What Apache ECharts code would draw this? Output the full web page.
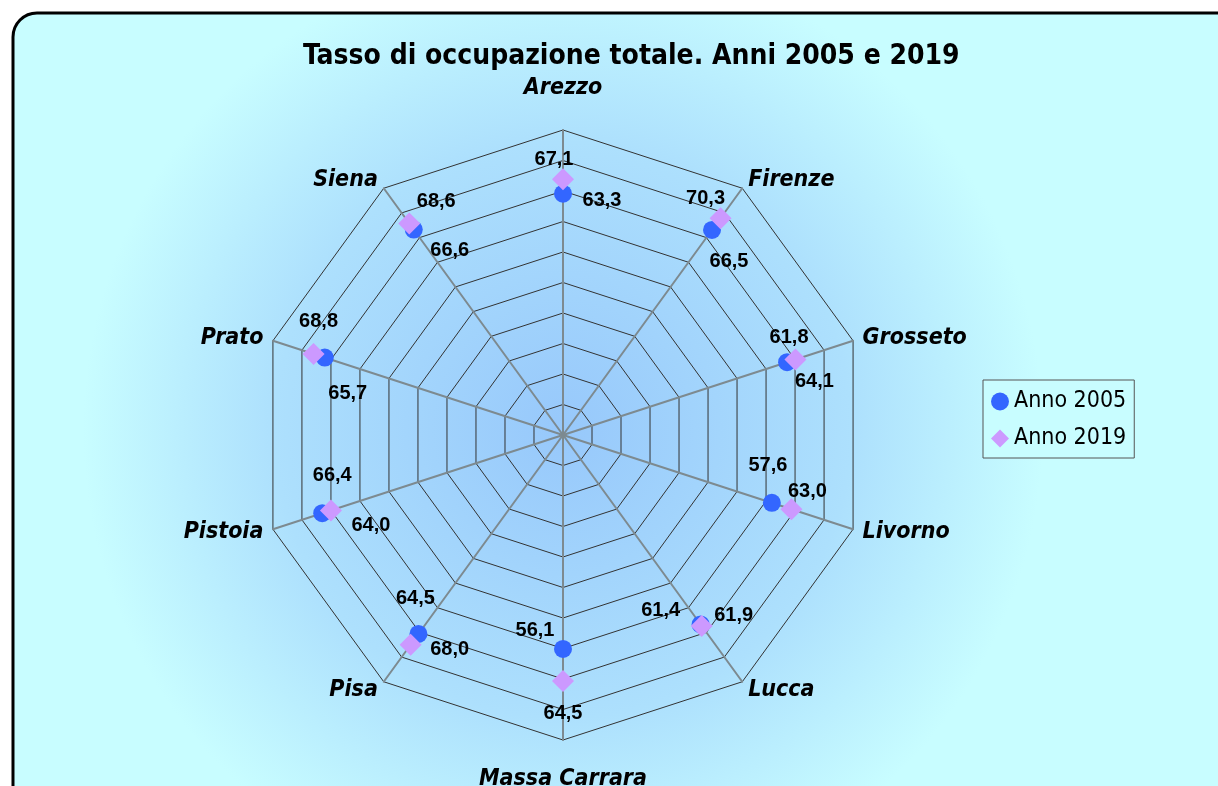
<!DOCTYPE html>
<html>
<head>
<meta charset="utf-8">
<script src="https://cdn.jsdelivr.net/npm/echarts@6/dist/echarts.min.js"></script>
<style>
  html, body { margin: 0; padding: 0; background: #fff; }
  #chart { width: 1218px; height: 786px; }
</style>
</head>
<body>
<div id="chart"></div>
<script>
// data (clockwise from the top)
const cities = ['Arezzo', 'Firenze', 'Grosseto', 'Livorno', 'Lucca', 'Massa Carrara', 'Pisa', 'Pistoia', 'Prato', 'Siena'];
const anno2005 = [63.3, 66.5, 61.8, 57.6, 61.4, 56.1, 64.5, 66.4, 65.7, 66.6];
const anno2019 = [67.1, 70.3, 64.1, 63.0, 61.9, 64.5, 68.0, 64.0, 68.8, 68.6];
const scaleMax = 80;

// where each value label sits, in px from its marker
const off2005 = [[39, 7], [17, 32], [2, -25], [-4, -37], [-40, -14], [-28, -18], [-3, -35], [10, -38], [23, 36], [36, 21]];
const off2019 = [[-9, -20], [-15, -20], [19, 22], [16, -18], [32, -10], [0, 33], [39, 5], [40, 15], [5, -32], [27, -22]];

const center = [563, 435];
const radius = 305;
const numFont = "'Liberation Sans', Arial, sans-serif";
const narrow = "'Liberation Sans Narrow', 'DejaVu Sans Condensed', sans-serif";

// radar goes counter-clockwise, so flip everything after the first one
const radarOrder = [cities[0]].concat(cities.slice(1).reverse());

const fmt = p => p.value[0].toFixed(1).replace('.', ',');

const pts = (vals, offs) => vals.map((v, i) => ({
  value: [v, cities[i]],
  label: { offset: offs[i] }
}));

const chart = echarts.init(document.getElementById('chart'));

chart.setOption({
  animation: false,
  backgroundColor: '#fff',
  graphic: [{
    type: 'rect',
    z: -10,
    shape: { x: 13, y: 13, width: 1240, height: 810, r: 24 },
    style: {
      fill: {
        type: 'radial', x: 563, y: 430, r: 480, global: true,
        colorStops: [
          { offset: 0, color: '#97c8fb' },
          { offset: 0.6, color: '#ade0fd' },
          { offset: 1, color: '#c8fdff' }
        ]
      },
      stroke: '#000',
      lineWidth: 3
    }
  }],
  title: {
    text: 'Tasso di occupazione totale. Anni 2005 e 2019',
    left: 298,
    top: 38,
    textStyle: { fontFamily: narrow, fontSize: 28, fontWeight: 'bold', color: '#000' }
  },
  legend: {
    orient: 'vertical',
    left: 983,
    top: 380,
    width: 154,
    padding: [10, 8, 8, 8],
    itemGap: 14,
    itemWidth: 18,
    itemHeight: 18,
    backgroundColor: '#c8fdff',
    borderColor: '#555',
    borderWidth: 1,
    textStyle: { fontFamily: narrow, fontSize: 23, color: '#000' },
    data: ['Anno 2005', 'Anno 2019']
  },
  radar: {
    center: center,
    radius: radius,
    startAngle: 90,
    splitNumber: 10,
    shape: 'polygon',
    nameGap: 10,
    indicator: radarOrder.map(n => ({ name: n, min: 0, max: scaleMax })),
    axisName: {
      color: '#000',
      fontFamily: narrow,
      fontSize: 23,
      fontStyle: 'italic',
      fontWeight: 'bold',
      formatter: n => n === 'Arezzo' ? '{up|' + n + '}' : n === 'Massa Carrara' ? '{down|' + n + '}' : n,
      rich: {
        up: { fontFamily: narrow, fontSize: 23, fontStyle: 'italic', fontWeight: 'bold', color: '#000', padding: [0, 0, 20, 0] },
        down: { fontFamily: narrow, fontSize: 23, fontStyle: 'italic', fontWeight: 'bold', color: '#000', padding: [18, 0, 0, 0] }
      }
    },
    axisLine: { lineStyle: { color: '#7d8a90', width: 2 } },
    splitLine: { lineStyle: { color: '#333', width: 1 } },
    splitArea: { show: false }
  },
  polar: { center: center, radius: radius },
  angleAxis: {
    type: 'category',
    data: cities,
    startAngle: 90,
    clockwise: true,
    boundaryGap: false,
    show: false
  },
  radiusAxis: { type: 'value', min: 0, max: scaleMax, show: false },
  series: [
    {
      name: 'Anno 2005',
      type: 'scatter',
      coordinateSystem: 'polar',
      symbol: 'circle',
      symbolSize: 18,
      itemStyle: { color: '#3366ff', opacity: 1 },
      label: {
        show: true, position: 'inside', formatter: fmt,
        color: '#000', fontFamily: numFont, fontSize: 20, fontWeight: 'bold'
      },
      data: pts(anno2005, off2005),
      z: 3
    },
    {
      name: 'Anno 2019',
      type: 'scatter',
      coordinateSystem: 'polar',
      symbol: 'diamond',
      symbolSize: [22, 22],
      itemStyle: { color: '#cc99ff', opacity: 1 },
      label: {
        show: true, position: 'inside', formatter: fmt,
        color: '#000', fontFamily: numFont, fontSize: 20, fontWeight: 'bold'
      },
      data: pts(anno2019, off2019),
      z: 4
    }
  ]
});
</script>
</body>
</html>
